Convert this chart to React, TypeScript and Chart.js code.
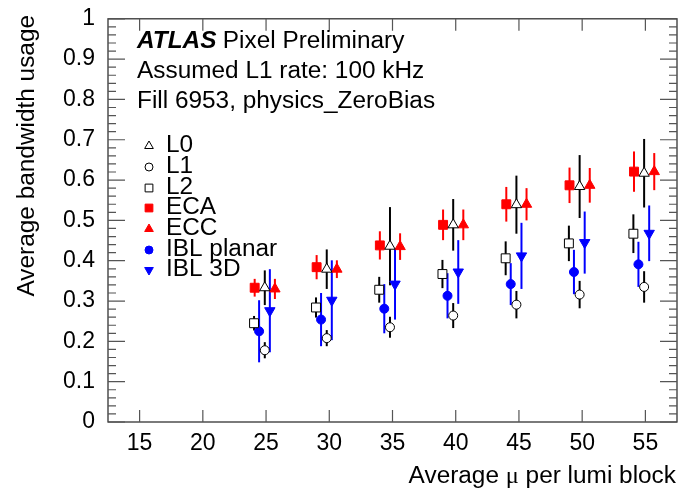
import React, { useEffect, useRef } from 'react';
import { Chart, registerables } from 'chart.js';

Chart.register(...registerables);

const FONT = '"Liberation Sans", Arial, Helvetica, sans-serif';
const HSCALE = 1.06;

// Average mu per lumi block group centres
const muValues = [24.9, 29.8, 34.8, 39.8, 44.8, 49.8, 54.9];

const l0 = [0.333, 0.379, 0.436, 0.489, 0.539, 0.584, 0.617];
const l0Err = [0.043, 0.049, 0.097, 0.064, 0.072, 0.078, 0.085];
const l1 = [0.178, 0.208, 0.235, 0.264, 0.291, 0.316, 0.335];
const l1Err = [0.02, 0.02, 0.026, 0.031, 0.034, 0.034, 0.039];
const l2 = [0.245, 0.284, 0.328, 0.367, 0.406, 0.443, 0.467];
const l2Err = [0.018, 0.025, 0.032, 0.035, 0.042, 0.044, 0.048];
const eca = [0.333, 0.384, 0.438, 0.489, 0.54, 0.587, 0.621];
const ecaErr = [0.022, 0.03, 0.035, 0.038, 0.043, 0.044, 0.05];
const ecc = [0.33, 0.379, 0.435, 0.489, 0.54, 0.587, 0.621];
const eccErr = [0.025, 0.022, 0.033, 0.038, 0.04, 0.043, 0.046];
const iblPlanar = [0.225, 0.254, 0.281, 0.313, 0.342, 0.372, 0.391];
const iblPlanarErr = [0.077, 0.066, 0.061, 0.056, 0.052, 0.055, 0.056];
const ibl3D = [0.276, 0.302, 0.342, 0.372, 0.412, 0.445, 0.468];
const ibl3DErr = [0.103, 0.099, 0.088, 0.079, 0.082, 0.077, 0.069];

const xTicks = [15, 20, 25, 30, 35, 40, 45, 50, 55];
const yTicks = [0, 0.1, 0.2, 0.3, 0.4, 0.5, 0.6, 0.7, 0.8, 0.9, 1];

const textLines = ['Assumed L1 rate: 100 kHz', 'Fill 6953, physics_ZeroBias'];

type SeriesDef = {
  label: string;
  values: number[];
  errors: number[];
  offset: number;
  color: string;
  fill: string;
  pointStyle: string;
  rotation: number;
  radius: number;
  legendRadius: number;
};

const series: SeriesDef[] = [
  { label: 'L0', values: l0, errors: l0Err, offset: 0, color: '#000000', fill: '#ffffff', pointStyle: 'triangle', rotation: 0, radius: 6, legendRadius: 5 },
  { label: 'L1', values: l1, errors: l1Err, offset: 0, color: '#000000', fill: '#ffffff', pointStyle: 'circle', rotation: 0, radius: 4.5, legendRadius: 4 },
  { label: 'L2', values: l2, errors: l2Err, offset: -0.85, color: '#000000', fill: '#ffffff', pointStyle: 'rect', rotation: 0, radius: 6.3, legendRadius: 5.5 },
  { label: 'ECA', values: eca, errors: ecaErr, offset: -0.8, color: '#ff0000', fill: '#ff0000', pointStyle: 'rect', rotation: 0, radius: 6.3, legendRadius: 5.5 },
  { label: 'ECC', values: ecc, errors: eccErr, offset: 0.8, color: '#ff0000', fill: '#ff0000', pointStyle: 'triangle', rotation: 0, radius: 6, legendRadius: 5 },
  { label: 'IBL planar', values: iblPlanar, errors: iblPlanarErr, offset: -0.45, color: '#0000ff', fill: '#0000ff', pointStyle: 'circle', rotation: 0, radius: 4.5, legendRadius: 4 },
  { label: 'IBL 3D', values: ibl3D, errors: ibl3DErr, offset: 0.4, color: '#0000ff', fill: '#0000ff', pointStyle: 'triangle', rotation: 180, radius: 6, legendRadius: 5 },
];

const errorBarPlugin = {
  id: 'errorBars',
  beforeDatasetsDraw(chart: any) {
    const ctx = chart.ctx;
    const yScale = chart.scales.y;
    ctx.save();
    chart.data.datasets.forEach((ds: any, i: number) => {
      const meta = chart.getDatasetMeta(i);
      ctx.strokeStyle = ds.errColor;
      ctx.lineWidth = 2;
      meta.data.forEach((el: any, j: number) => {
        const v = ds.data[j].y;
        const e = ds.errors[j];
        const yt = yScale.getPixelForValue(v + e);
        const yb = yScale.getPixelForValue(v - e);
        ctx.beginPath();
        ctx.moveTo(el.x, yt);
        ctx.lineTo(el.x, yb);
        ctx.stroke();
      });
    });
    ctx.restore();
  },
};

const framePlugin = {
  id: 'frame',
  afterDraw(chart: any) {
    const ctx = chart.ctx;
    const { left, right, top, bottom } = chart.chartArea;
    const xs = chart.scales.x;
    const ys = chart.scales.y;
    ctx.save();
    ctx.strokeStyle = '#333333';
    ctx.lineWidth = 1.3;
    ctx.strokeRect(left, top, right - left, bottom - top);
    ctx.strokeStyle = '#555555';
    ctx.lineWidth = 1.2;
    ctx.beginPath();
    xTicks.forEach((t) => {
      const px = xs.getPixelForValue(t);
      ctx.moveTo(px, bottom);
      ctx.lineTo(px, bottom - 12);
      ctx.moveTo(px, top);
      ctx.lineTo(px, top + 12);
    });
    for (let k = 0; k <= 50; k++) {
      const v = k * 0.02;
      const py = ys.getPixelForValue(v);
      const len = k % 5 === 0 ? 17 : 8;
      ctx.moveTo(left, py);
      ctx.lineTo(left + len, py);
      ctx.moveTo(right, py);
      ctx.lineTo(right - len, py);
    }
    ctx.stroke();
    ctx.restore();
  },
};

function drawMarker(ctx: CanvasRenderingContext2D, style: string, rotation: number, r: number, x: number, y: number) {
  ctx.beginPath();
  if (style === 'circle') {
    ctx.arc(x, y, r, 0, Math.PI * 2);
  } else if (style === 'rect') {
    const s = r * Math.SQRT1_2;
    ctx.rect(x - s, y - s, 2 * s, 2 * s);
  } else {
    let rad = (rotation * Math.PI) / 180;
    ctx.moveTo(x + Math.sin(rad) * r, y - Math.cos(rad) * r);
    rad += (2 * Math.PI) / 3;
    ctx.lineTo(x + Math.sin(rad) * r, y - Math.cos(rad) * r);
    rad += (2 * Math.PI) / 3;
    ctx.lineTo(x + Math.sin(rad) * r, y - Math.cos(rad) * r);
    ctx.closePath();
  }
  ctx.fill();
  ctx.stroke();
}

function drawScaledText(ctx: CanvasRenderingContext2D, text: string, x: number, y: number, font: string, align: CanvasTextAlign) {
  ctx.save();
  ctx.translate(x, y);
  ctx.scale(HSCALE, 1);
  ctx.font = font;
  ctx.textAlign = align;
  ctx.textBaseline = 'middle';
  ctx.fillText(text, 0, 0);
  ctx.restore();
}

const textPlugin = {
  id: 'texts',
  afterDraw(chart: any) {
    const ctx = chart.ctx;
    const base = `23px ${FONT}`;
    ctx.save();
    ctx.fillStyle = '#000000';

    // ATLAS label
    ctx.save();
    ctx.translate(137, 42);
    ctx.scale(HSCALE, 1);
    ctx.textBaseline = 'middle';
    ctx.textAlign = 'left';
    ctx.font = `italic bold 23px ${FONT}`;
    ctx.fillText('ATLAS', 0, 0);
    const w = ctx.measureText('ATLAS').width;
    ctx.font = base;
    ctx.fillText('Pixel Preliminary', w + 6, 0);
    ctx.restore();

    textLines.forEach((t, i) => drawScaledText(ctx, t, 137, 72 + i * 30, base, 'left'));

    // legend
    const rowY = [146, 167, 188, 208, 229, 250, 270];
    series.forEach((s, i) => {
      const y = rowY[i];
      ctx.fillStyle = s.fill;
      ctx.strokeStyle = s.color;
      ctx.lineWidth = 1;
      drawMarker(ctx, s.pointStyle, s.rotation, s.legendRadius, 149, y);
      ctx.fillStyle = '#000000';
      drawScaledText(ctx, s.label, 166, y, base, 'left');
    });

    // y title
    ctx.save();
    ctx.translate(28, 15);
    ctx.rotate(-Math.PI / 2);
    ctx.scale(HSCALE, 1);
    ctx.font = base;
    ctx.textBaseline = 'middle';
    ctx.textAlign = 'right';
    ctx.fillText('Average bandwidth usage', 0, 0);
    ctx.restore();

    // x title (right aligned)
    const parts = [
      { t: 'Average ', f: base },
      { t: 'μ', f: `23px "Liberation Serif", "DejaVu Serif", serif` },
      { t: ' per lumi block', f: base },
    ];
    ctx.save();
    ctx.translate(676, 477);
    ctx.scale(HSCALE, 1);
    ctx.textBaseline = 'middle';
    ctx.textAlign = 'left';
    let total = 0;
    parts.forEach((p) => {
      ctx.font = p.f;
      total += ctx.measureText(p.t).width;
    });
    let x = -total;
    parts.forEach((p) => {
      ctx.font = p.f;
      ctx.fillText(p.t, x, 0);
      x += ctx.measureText(p.t).width;
    });
    ctx.restore();
    ctx.restore();
  },
};

export default function App() {
  const ref = useRef<HTMLCanvasElement | null>(null);

  useEffect(() => {
    if (!ref.current) return;
    const datasets = series.map((s) => ({
      label: s.label,
      data: muValues.map((m, i) => ({ x: m + s.offset, y: s.values[i] })),
      errors: s.errors,
      errColor: s.color,
      pointStyle: s.pointStyle,
      rotation: s.rotation,
      pointRadius: s.radius,
      pointHoverRadius: s.radius,
      backgroundColor: s.fill,
      borderColor: s.color,
      borderWidth: 1,
      showLine: false,
    }));
    const chart = new Chart(ref.current, {
      type: 'scatter',
      data: { datasets } as any,
      options: {
        animation: false,
        responsive: false,
        devicePixelRatio: 1,
        layout: { padding: { left: 0, top: 13, right: 16, bottom: 41 } },
        plugins: { legend: { display: false }, tooltip: { enabled: false } },
        scales: {
          x: {
            type: 'linear',
            min: 12.5,
            max: 57.5,
            grid: { display: false },
            border: { display: false },
            afterBuildTicks: (s: any) => {
              s.ticks = xTicks.map((v) => ({ value: v }));
            },
            afterFit: (s: any) => {
              s.height = 30;
            },
            ticks: {
              color: '#000000',
              font: { family: FONT, size: 23 },
              padding: 0,
              maxRotation: 0,
              autoSkip: false,
              callback: (v: any) => String(v),
            },
          },
          y: {
            type: 'linear',
            min: 0,
            max: 1,
            grid: { display: false },
            border: { display: false },
            afterBuildTicks: (s: any) => {
              s.ticks = yTicks.map((v) => ({ value: v }));
            },
            afterFit: (s: any) => {
              s.width = 108;
            },
            ticks: {
              color: '#000000',
              font: { family: FONT, size: 23 },
              padding: 5,
              autoSkip: false,
              callback: (v: any) => String(Number(Number(v).toFixed(1))),
            },
          },
        },
      } as any,
      plugins: [errorBarPlugin, framePlugin, textPlugin],
    });
    return () => chart.destroy();
  }, []);

  return (
    <div style={{ position: 'fixed', left: 0, top: 0, width: 693, height: 493, background: '#ffffff' }}>
      <canvas ref={ref} width={693} height={493} style={{ width: 693, height: 493, display: 'block' }} />
    </div>
  );
}
